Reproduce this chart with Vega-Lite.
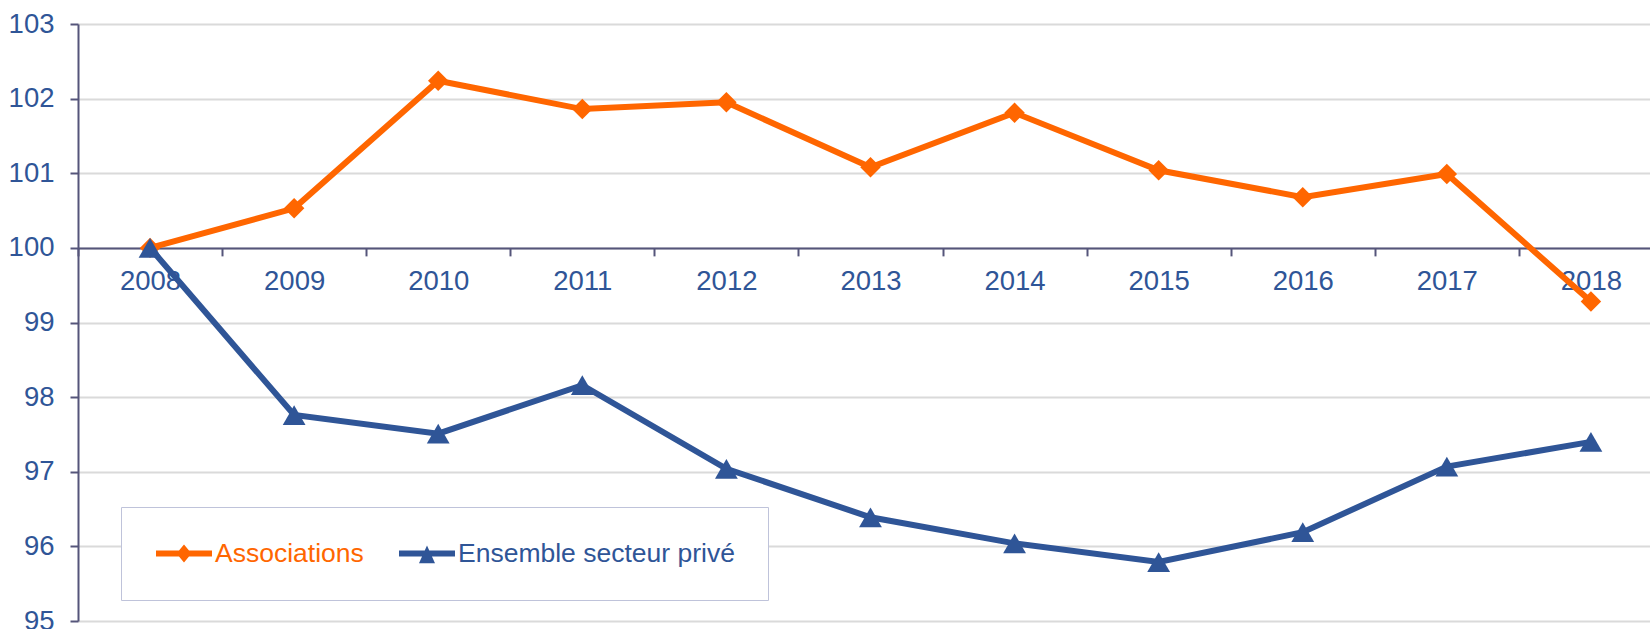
{
  "$schema": "https://vega.github.io/schema/vega-lite/v6.json",
  "width": 1572,
  "height": 597,
  "autosize": {"type": "none"},
  "padding": {"left": 78, "top": 24, "right": 0, "bottom": 8},
  "background": "white",
  "config": {"view": {"stroke": null}, "font": "Liberation Sans"},
  "data": {
    "values": [
      {"annee": 2008, "serie": "Associations", "indice": 100},
      {"annee": 2009, "serie": "Associations", "indice": 100.53},
      {"annee": 2010, "serie": "Associations", "indice": 102.24},
      {"annee": 2011, "serie": "Associations", "indice": 101.86},
      {"annee": 2012, "serie": "Associations", "indice": 101.95},
      {"annee": 2013, "serie": "Associations", "indice": 101.08},
      {"annee": 2014, "serie": "Associations", "indice": 101.81},
      {"annee": 2015, "serie": "Associations", "indice": 101.04},
      {"annee": 2016, "serie": "Associations", "indice": 100.68},
      {"annee": 2017, "serie": "Associations", "indice": 100.99},
      {"annee": 2018, "serie": "Associations", "indice": 99.28},
      {"annee": 2008, "serie": "Ensemble secteur privé", "indice": 100},
      {"annee": 2009, "serie": "Ensemble secteur privé", "indice": 97.76},
      {"annee": 2010, "serie": "Ensemble secteur privé", "indice": 97.51},
      {"annee": 2011, "serie": "Ensemble secteur privé", "indice": 98.16},
      {"annee": 2012, "serie": "Ensemble secteur privé", "indice": 97.04},
      {"annee": 2013, "serie": "Ensemble secteur privé", "indice": 96.39},
      {"annee": 2014, "serie": "Ensemble secteur privé", "indice": 96.04},
      {"annee": 2015, "serie": "Ensemble secteur privé", "indice": 95.79},
      {"annee": 2016, "serie": "Ensemble secteur privé", "indice": 96.19},
      {"annee": 2017, "serie": "Ensemble secteur privé", "indice": 97.07},
      {"annee": 2018, "serie": "Ensemble secteur privé", "indice": 97.40}
    ]
  },
  "encoding": {
    "x": {
      "field": "annee",
      "type": "quantitative",
      "scale": {"domain": [2007.5, 2018.41], "nice": false, "zero": false},
      "axis": {
        "title": null,
        "orient": "bottom",
        "offset": -373.125,
        "values": [2008, 2009, 2010, 2011, 2012, 2013, 2014, 2015, 2016, 2017, 2018],
        "format": "d",
        "tickOffset": -72.04,
        "labelOffset": 72.04,
        "tickSize": 8,
        "tickWidth": 2,
        "tickColor": "#55557A",
        "domainColor": "#55557A",
        "domainWidth": 2,
        "grid": false,
        "labelFontSize": 27.5,
        "labelColor": "#2F5597",
        "labelPadding": 11.5,
        "labelFlush": false,
        "labelOverlap": false
      }
    },
    "y": {
      "field": "indice",
      "type": "quantitative",
      "scale": {"domain": [95, 103], "nice": false, "zero": false},
      "axis": {
        "title": null,
        "values": [95, 96, 97, 98, 99, 100, 101, 102, 103],
        "grid": true,
        "gridColor": "#DADADA",
        "gridWidth": 2,
        "tickSize": 8,
        "tickWidth": 2,
        "tickColor": "#55557A",
        "domainColor": "#55557A",
        "domainWidth": 2,
        "labelFontSize": 27.5,
        "labelColor": "#2F5597",
        "labelPadding": 16
      }
    }
  },
  "layer": [
    {
      "mark": {"type": "line", "strokeWidth": 6, "clip": false},
      "encoding": {
        "color": {
          "field": "serie",
          "type": "nominal",
          "scale": {"domain": ["Associations", "Ensemble secteur privé"], "range": ["#FF6600", "#2F5597"]},
          "legend": {
            "title": null,
            "orient": "none",
            "legendX": 43,
            "legendY": 483,
            "direction": "horizontal",
            "padding": 33,
            "strokeColor": "#BFC3DA",
            "fillColor": "white",
            "symbolSize": 729,
            "symbolStrokeWidth": 0,
            "symbolOffset": 16.5,
            "labelFontSize": 26.5,
            "labelOffset": 17.5,
            "labelLimit": 0,
            "columnPadding": 33,
            "encode": {
              "symbols": {
                "update": {
                  "shape": {"signal": "datum.value === 'Associations' ? 'M-2.074,-0.222L2.074,-0.222L2.074,0.222L-2.074,0.222Z M0,-0.667L0.556,0L0,0.667L-0.556,0Z' : 'M-2.074,-0.222L2.074,-0.222L2.074,0.222L-2.074,0.222Z M0,-0.593L0.593,0.719L-0.593,0.719Z'"},
                  "fill": {"signal": "datum.value === 'Associations' ? '#FF6600' : '#2F5597'"},
                  "stroke": {"value": "transparent"},
                  "strokeWidth": {"value": 0},
                  "opacity": {"value": 1}
                }
              },
              "labels": {
                "update": {
                  "fill": {"signal": "datum.value === 'Associations' ? '#FF6600' : '#2F5597'"}
                }
              }
            }
          }
        }
      }
    },
    {
      "transform": [{"filter": "datum.serie === 'Associations'"}],
      "mark": {"type": "point", "shape": "diamond", "filled": true, "opacity": 1, "size": 420, "color": "#FF6600", "clip": false}
    },
    {
      "transform": [{"filter": "datum.serie === 'Ensemble secteur privé'"}],
      "mark": {"type": "point", "shape": "triangle-up", "filled": true, "opacity": 1, "size": 520, "color": "#2F5597", "clip": false}
    }
  ]
}
